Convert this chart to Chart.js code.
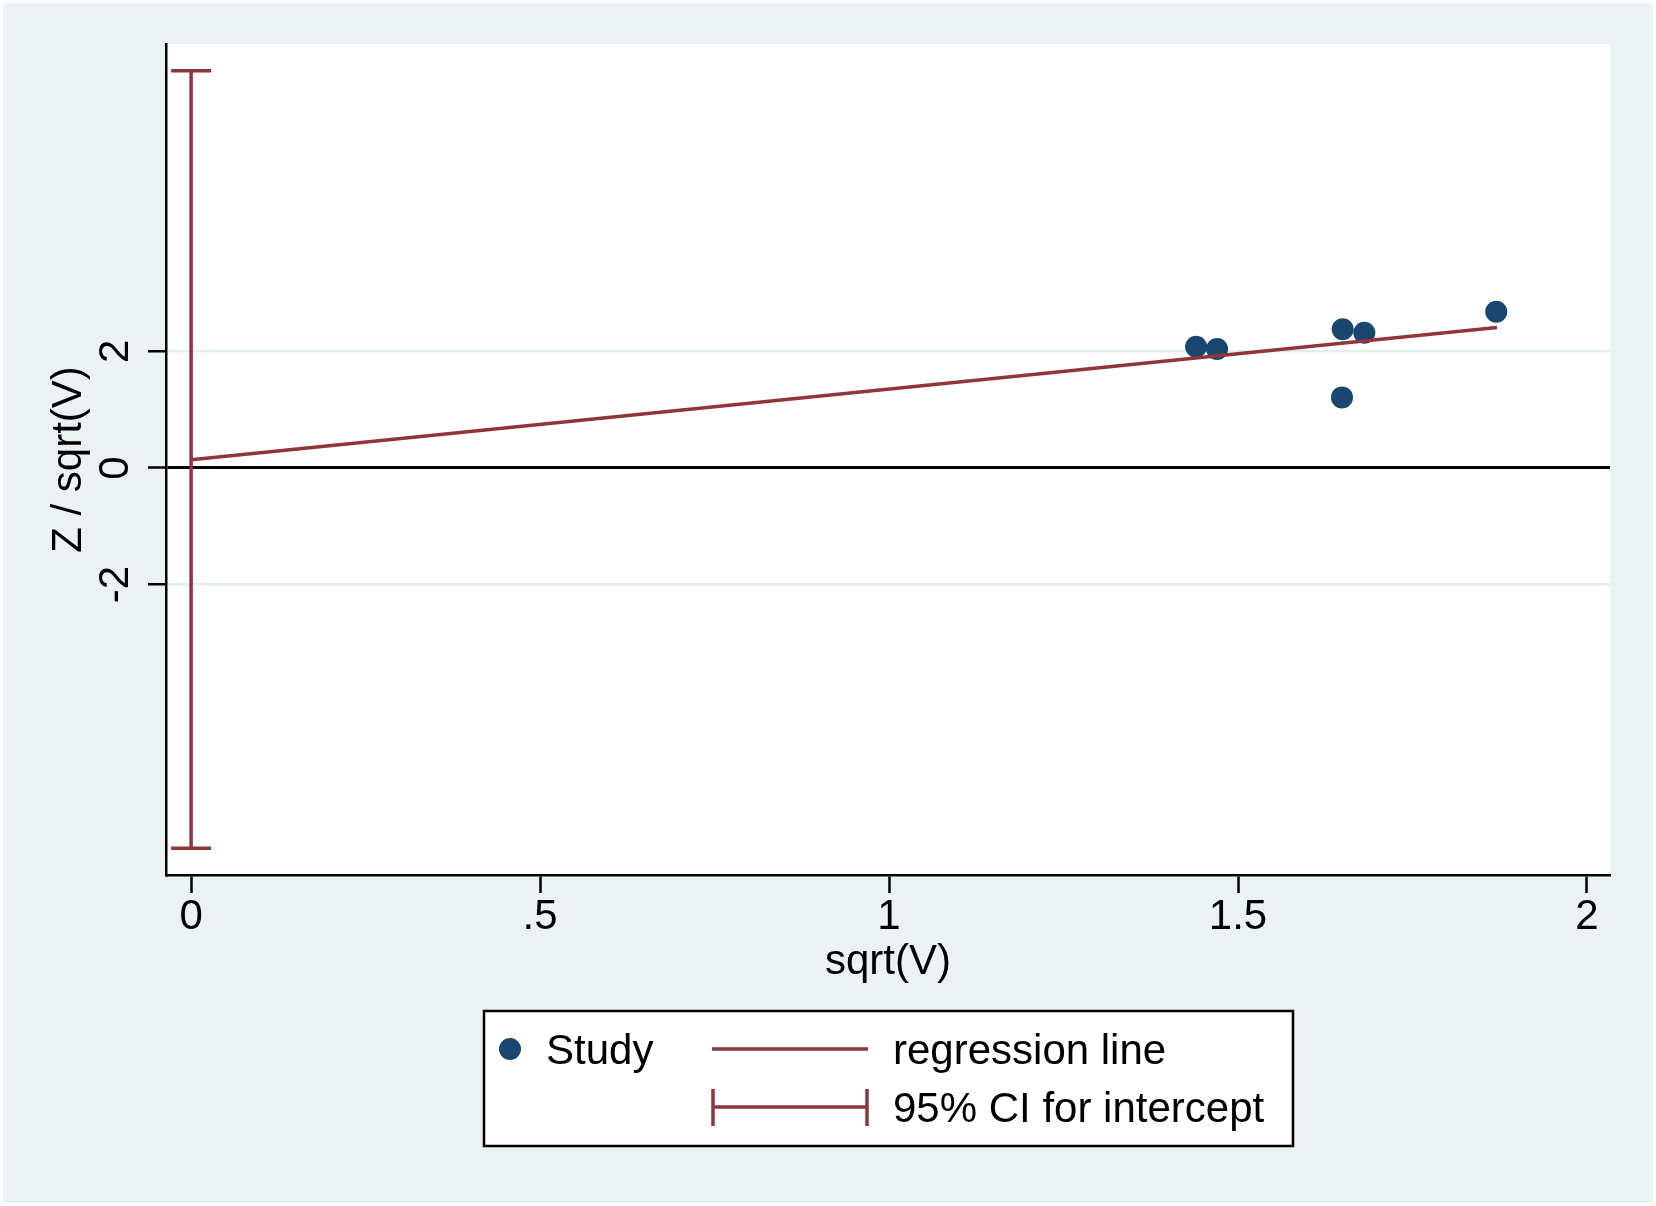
<!DOCTYPE html>
<html>
<head>
<meta charset="utf-8">
<script src="https://cdn.jsdelivr.net/npm/chart.js@4"></script>
<style>
    html, body { margin: 0; padding: 0; background: #fff; }
    canvas { display: block; }
</style>
</head>
<body>
<canvas id="egger" width="1656" height="1206"></canvas>
<script>
const xTicks = [0, 0.5, 1, 1.5, 2];
const xTickLabels = ['0', '.5', '1', '1.5', '2'];
const yTicks = [-2, 0, 2];
const yTickLabels = ['-2', '0', '2'];

const studyX = [1.440, 1.470, 1.650, 1.681, 1.649, 1.870];
const studyY = [2.08, 2.04, 2.38, 2.32, 1.21, 2.68];
const regX = [0, 1.871];
const regY = [0.14, 2.41];
const ciX = [0, 0];
const ciY = [-6.52, 6.81];

const maroon = '#90353b';
const navy = '#1a476f';
const font = 'Liberation Sans, Arial, sans-serif';

const toPoints = (xs, ys) => xs.map((x, i) => ({ x, y: ys[i] }));

const stataLook = {
    id: 'stataLook',
    beforeDraw(chart) {
        const { ctx, width, height, chartArea } = chart;
        ctx.save();
        ctx.fillStyle = '#ffffff';
        ctx.fillRect(0, 0, width, height);
        ctx.fillStyle = '#eaf2f3';
        ctx.fillRect(3, 3, width - 6, height - 6);
        ctx.fillStyle = '#ffffff';
        ctx.fillRect(chartArea.left, chartArea.top, chartArea.right - chartArea.left, chartArea.bottom - chartArea.top);
        ctx.restore();
    },
    afterDraw(chart) {
        const { ctx } = chart;
        const y = chart.scales.y;
        ctx.save();
        ctx.fillStyle = '#000';
        ctx.font = '42px ' + font;

        // vertical tick labels on the y axis
        yTicks.forEach((v, i) => {
            ctx.save();
            ctx.translate(128, y.getPixelForValue(v));
            ctx.rotate(-Math.PI / 2);
            ctx.textAlign = 'center';
            ctx.textBaseline = 'alphabetic';
            ctx.fillText(yTickLabels[i], 0, 0);
            ctx.restore();
        });

        // legend box
        ctx.fillStyle = '#fff';
        ctx.fillRect(484, 1011, 809, 135);
        ctx.strokeStyle = '#000';
        ctx.lineWidth = 2.5;
        ctx.strokeRect(484, 1011, 809, 135);

        ctx.fillStyle = navy;
        ctx.beginPath();
        ctx.arc(510, 1049, 11, 0, Math.PI * 2);
        ctx.fill();

        ctx.strokeStyle = maroon;
        ctx.lineWidth = 3.5;
        ctx.beginPath();
        ctx.moveTo(712, 1049); ctx.lineTo(868, 1049);
        ctx.moveTo(712, 1107); ctx.lineTo(868, 1107);
        ctx.moveTo(713, 1089); ctx.lineTo(713, 1126);
        ctx.moveTo(867, 1089); ctx.lineTo(867, 1126);
        ctx.stroke();

        ctx.fillStyle = '#000';
        ctx.textAlign = 'left';
        ctx.textBaseline = 'alphabetic';
        ctx.fillText('Study', 546, 1064);
        ctx.fillText('regression line', 893, 1064);
        ctx.fillText('95% CI for intercept', 893, 1122);
        ctx.restore();
    }
};

new Chart(document.getElementById('egger'), {
    data: {
        datasets: [
            {
                type: 'line',
                label: 'regression line',
                data: toPoints(regX, regY),
                borderColor: maroon,
                borderWidth: 3.5,
                pointRadius: 0,
                order: 1
            },
            {
                type: 'line',
                label: '95% CI for intercept',
                data: toPoints(ciX, ciY),
                borderColor: maroon,
                borderWidth: 3.5,
                pointStyle: 'line',
                pointRadius: 20,
                pointBorderColor: maroon,
                pointBorderWidth: 3.5,
                order: 2
            },
            {
                type: 'scatter',
                label: 'Study',
                data: toPoints(studyX, studyY),
                backgroundColor: navy,
                borderWidth: 0,
                pointRadius: 11,
                order: 3
            }
        ]
    },
    options: {
        responsive: false,
        devicePixelRatio: 1,
        animation: false,
        layout: { padding: { top: 44, right: 46, bottom: 221, left: 0 } },
        plugins: { legend: { display: false }, tooltip: { enabled: false } },
        scales: {
            x: {
                type: 'linear',
                min: -0.036,
                max: 2.033,
                afterBuildTicks: s => { s.ticks = xTicks.map(v => ({ value: v })); },
                afterFit: s => { s.height = 110; },
                ticks: {
                    callback: v => xTickLabels[xTicks.indexOf(v)],
                    font: { family: font, size: 42, lineHeight: 1 },
                    color: '#000',
                    padding: 3,
                    maxRotation: 0,
                    autoSkip: false
                },
                grid: { drawOnChartArea: false, tickLength: 18, tickColor: '#000', tickWidth: 2.5 },
                border: { color: '#000', width: 2.5 },
                title: {
                    display: true,
                    text: 'sqrt(V)',
                    color: '#000',
                    font: { family: font, size: 42, lineHeight: 1 },
                    padding: { top: 0, bottom: 2 }
                }
            },
            y: {
                type: 'linear',
                min: -6.98,
                max: 7.27,
                afterBuildTicks: s => { s.ticks = yTicks.map(v => ({ value: v })); },
                afterFit: s => { s.width = 166; },
                ticks: { display: false },
                grid: {
                    color: c => (c.tick && c.tick.value === 0 ? '#000' : '#e2edee'),
                    lineWidth: c => (c.tick && c.tick.value === 0 ? 3 : 2.5),
                    tickLength: 18,
                    tickColor: '#000',
                    tickWidth: 2.5
                },
                border: { color: '#000', width: 2.5 },
                title: {
                    display: true,
                    text: 'Z / sqrt(V)',
                    color: '#000',
                    font: { family: font, size: 42, lineHeight: 1 },
                    padding: { top: 48, bottom: 0 }
                }
            }
        }
    },
    plugins: [stataLook]
});
</script>
</body>
</html>
